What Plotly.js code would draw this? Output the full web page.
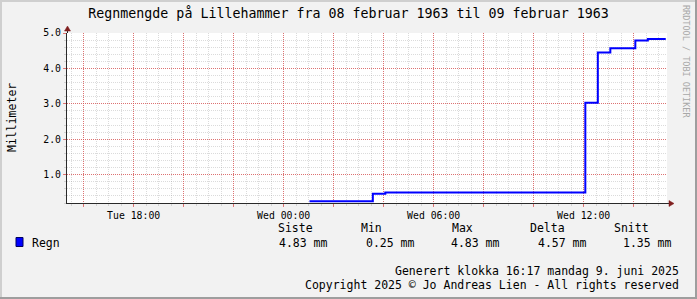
<!DOCTYPE html>
<html>
<head>
<meta charset="utf-8">
<script src="https://cdn.plot.ly/plotly-3.0.1.min.js"></script>
<style>
  html, body { margin: 0; padding: 0; background: #f2f2f2; }
  #chart { width: 697px; height: 299px; }
</style>
</head>
<body>
<div id="chart"></div>
<script>
// ---- data ----
const seriesName = 'Regn';
const times = ['1963-02-09 01:02', '1963-02-09 03:34', '1963-02-09 04:04', '1963-02-09 12:04',
               '1963-02-09 12:34', '1963-02-09 13:04', '1963-02-09 14:04', '1963-02-09 14:34',
               '1963-02-09 15:17'];
const values = [0.25, 0.46, 0.50, 3.03, 4.45, 4.57, 4.79, 4.83, 4.83];

const xRange = ['1963-02-08 15:20', '1963-02-09 15:20'];
const labelTimes = ['1963-02-08 18:00', '1963-02-09 00:00', '1963-02-09 06:00', '1963-02-09 12:00'];
const labelTexts = ['Tue 18:00', 'Wed 00:00', 'Wed 06:00', 'Wed 12:00'];
const yTickVals = [1, 2, 3, 4, 5];
const yTickLabels = ['1.0', '2.0', '3.0', '4.0', '5.0'];

const statHeaders = ['Siste', 'Min', 'Max', 'Delta', 'Snitt'];
const statValues = ['4.83 mm', '0.25 mm', '4.83 mm', '4.57 mm', '1.35 mm'];

const titleText = 'Regnmengde på Lillehammer fra 08 februar 1963 til 09 februar 1963';
const yTitle = 'Millimeter';
const footer1 = 'Generert klokka 16:17 mandag 9. juni 2025';
const footer2 = 'Copyright 2025 © Jo Andreas Lien - All rights reserved';
const sideText = 'RRDTOOL / TOBI OETIKER';

// ---- layout geometry ----
const FW = 697, FH = 299;
const L = 67, T = 33, W = 600, H = 170;
const px = x => (x - L) / W;
const py = y => (T + H - y) / H;
const MONO = 'DejaVu Sans Mono, monospace';

// major x grid every 2 h, labels only on the 6-hour marks
const tickVals = [];
const tickText = [];
const start = new Date('1963-02-08T16:00:00Z').getTime();
for (let i = 0; i < 12; i++) {
  const d = new Date(start + i * 2 * 3600 * 1000);
  const s = d.toISOString().slice(0, 16).replace('T', ' ');
  tickVals.push(s);
  const k = labelTimes.indexOf(s);
  tickText.push(k >= 0 ? labelTexts[k] : '');
}

const trace = {
  x: times, y: values, type: 'scatter', mode: 'lines',
  line: { shape: 'hv', color: '#0000ff', width: 2 },
  name: seriesName, hoverinfo: 'skip'
};

const majorGrid = 'rgba(222,79,79,0.75)';
const minorGrid = 'rgba(143,143,143,0.32)';
const axisCol = '#2a2a2a';
const arrowCol = '#801f1f';

const annotations = [];
function txt(text, x, y, opts) {
  annotations.push(Object.assign({
    text, xref: 'paper', yref: 'paper', x: px(x), y: py(y),
    showarrow: false, xanchor: 'left', yanchor: 'middle',
    font: { family: MONO, size: 11.5, color: '#000' }
  }, opts || {}));
}
const headX = [276, 359, 450, 528, 612];
const valX = [277, 364, 449, 536, 621];
statHeaders.forEach((h, i) => txt(h, headX[i], 228.5));
statValues.forEach((v, i) => txt(v, valX[i], 242.5));
txt(seriesName, 30, 242.5);
txt(footer1, 681, 270.5, { xanchor: 'right' });
txt(footer2, 681, 284.5, { xanchor: 'right' });
txt(yTitle, 11.5, 117.5, { xanchor: 'center', textangle: -90 });
txt(sideText, 686, 61, { xanchor: 'center', textangle: 90,
  font: { family: MONO, size: 8.5, color: '#a8a8a8' } });

const shapes = [
  // frame shading
  { type: 'line', xref: 'paper', yref: 'paper', x0: px(1), x1: px(1), y0: py(0), y1: py(FH), line: { color: '#cfcfcf', width: 2 } },
  { type: 'line', xref: 'paper', yref: 'paper', x0: px(0), x1: px(FW), y0: py(1), y1: py(1), line: { color: '#cfcfcf', width: 2 } },
  { type: 'line', xref: 'paper', yref: 'paper', x0: px(FW - 1), x1: px(FW - 1), y0: py(0), y1: py(FH), line: { color: '#9e9e9e', width: 2 } },
  { type: 'line', xref: 'paper', yref: 'paper', x0: px(0), x1: px(FW), y0: py(FH - 1), y1: py(FH - 1), line: { color: '#9e9e9e', width: 2 } },
  // axis extensions
  { type: 'line', xref: 'paper', yref: 'paper', x0: px(67.5), x1: px(67.5), y0: py(33), y1: py(30), line: { color: axisCol, width: 1 } },
  { type: 'line', xref: 'paper', yref: 'paper', x0: px(667), x1: px(670), y0: py(203.5), y1: py(203.5), line: { color: axisCol, width: 1 } },
  // arrows
  { type: 'path', xref: 'paper', yref: 'paper', layer: 'above',
    path: `M ${px(64.5)} ${py(31)} L ${px(70.5)} ${py(31)} L ${px(67.5)} ${py(26)} Z`,
    fillcolor: arrowCol, line: { color: arrowCol, width: 0.5 } },
  { type: 'path', xref: 'paper', yref: 'paper', layer: 'above',
    path: `M ${px(669)} ${py(200.5)} L ${px(669)} ${py(206.5)} L ${px(674)} ${py(203.5)} Z`,
    fillcolor: arrowCol, line: { color: arrowCol, width: 0.5 } },
  // legend swatch
  { type: 'rect', xref: 'paper', yref: 'paper', x0: px(16), x1: px(23), y0: py(246.5), y1: py(237.5),
    fillcolor: '#0000ff', line: { color: '#000060', width: 1 } }
];

const layout = {
  width: FW, height: FH,
  margin: { l: L, r: FW - L - W, t: T, b: FH - T - H, pad: 0 },
  paper_bgcolor: '#f2f2f2', plot_bgcolor: '#ffffff',
  showlegend: false,
  title: {
    text: titleText, xref: 'container', yref: 'container',
    x: 0.5, xanchor: 'center', y: 1 - 13.5 / FH, yanchor: 'middle',
    font: { family: MONO, size: 13.3, color: '#000' }
  },
  xaxis: {
    type: 'date', range: xRange,
    tickmode: 'array', tickvals: tickVals, ticktext: tickText,
    showgrid: true, gridcolor: majorGrid, griddash: '1px,1px', gridwidth: 1,
    ticks: 'outside', ticklen: 3, tickcolor: majorGrid, tickwidth: 1,
    showline: true, linecolor: axisCol, linewidth: 1, zeroline: false,
    tickfont: { family: MONO, size: 9.8, color: '#000' },
    minor: {
      tickmode: 'linear', tick0: '1963-02-08 15:30', dtick: 30 * 60 * 1000,
      showgrid: true, gridcolor: minorGrid, griddash: '1px,1px', gridwidth: 1,
      ticks: 'outside', ticklen: 2, tickcolor: minorGrid
    },
    fixedrange: true
  },
  yaxis: {
    range: [0.2, 5.0],
    tickmode: 'array', tickvals: yTickVals, ticktext: yTickLabels,
    showgrid: true, gridcolor: majorGrid, griddash: '1px,1px', gridwidth: 1,
    ticks: 'outside', ticklen: 3, tickcolor: majorGrid,
    showline: true, linecolor: axisCol, linewidth: 1, zeroline: false,
    tickfont: { family: MONO, size: 9.8, color: '#000' },
    minor: {
      tickmode: 'linear', tick0: 0, dtick: 0.2,
      showgrid: true, gridcolor: minorGrid, griddash: '1px,1px', gridwidth: 1,
      ticks: 'outside', ticklen: 2, tickcolor: minorGrid
    },
    fixedrange: true
  },
  annotations, shapes
};

Plotly.newPlot('chart', [trace], layout, { displayModeBar: false, staticPlot: true });
</script>
</body>
</html>
